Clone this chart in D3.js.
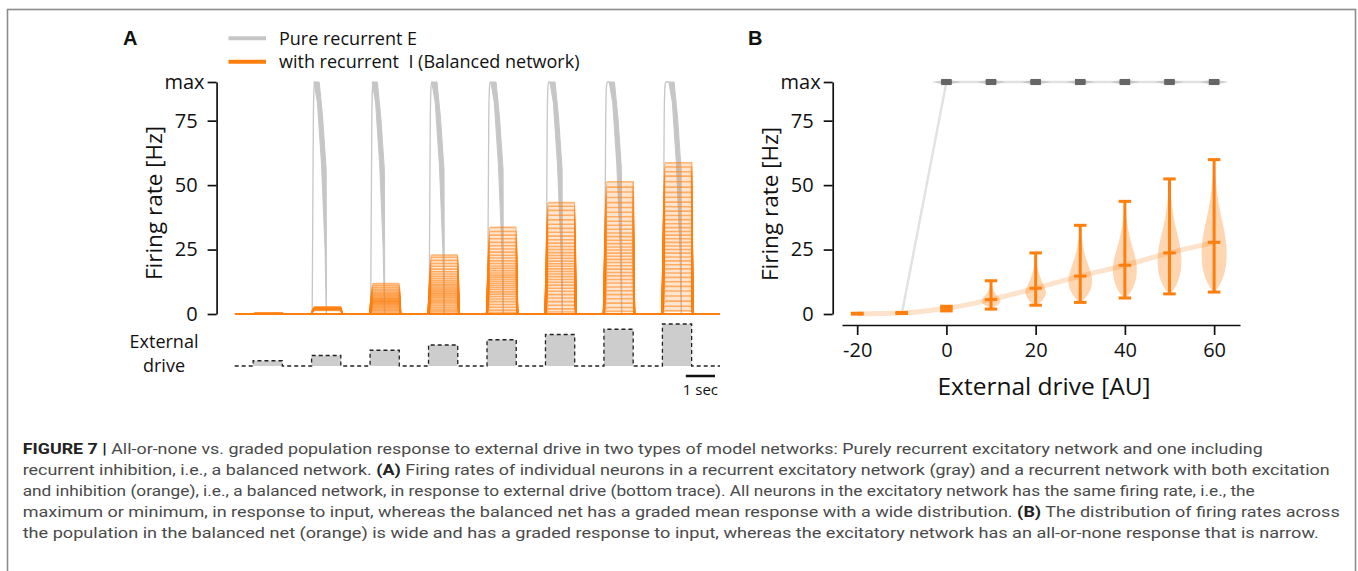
<!DOCTYPE html>
<html>
<head>
<meta charset="utf-8">
<script src="https://cdn.jsdelivr.net/npm/d3@7"></script>
<style>
    body { margin: 0; background: #fff; }
    text { font-family: "Open Sans", sans-serif; fill: #111; white-space: pre; }
</style>
</head>
<body>
<script>
(function() {
    "use strict";

    // ---- data ----
    var drives = [-20, -10, 0, 10, 20, 30, 40, 50, 60];
    var driveTicks = [-20, 0, 20, 40, 60];
    var rateTicks = [0, 25, 50, 75, 90];
    var rateTickLabels = ["0", "25", "50", "75", "max"];

    // panel A: one pulse per drive level above baseline (-20)
    var pulseDrives = [-10, 0, 10, 20, 30, 40, 50, 60];
    var pulseStarts = [0.63, 2.63, 4.63, 6.63, 8.63, 10.63, 12.63, 14.63];
    var pulseLength = 1;
    var traceEnd = 16.6;
    var scaleBarStart = 15.43;

    // pure E network: time (s after pulse start) where the rate collapses
    var grayFall = [null, 0.50, 0.49, 0.53, 0.55, 0.57, 0.60, 0.64];
    var grayRise = [[0.02, 0], [0.06, 75], [0.085, 88], [0.11, 90]];
    var grayBandLeft = [[-0.42, 90], [-0.3, 82], [-0.16, 58], [-0.04, 25], [0, 0]];
    var grayBandRight = [[-0.24, 90], [-0.12, 76], [0, 56], [0.012, 0]];

    // balanced network: plateau rate of individual neurons in each pulse
    var orangeRates = [
        [0.15, 0.25, 0.35, 0.45],
        [1.4, 1.6, 1.8, 1.9, 2.0, 2.1, 2.2, 2.3, 2.4, 2.6, 2.8],
        [0.6, 1.2, 1.7, 2.2, 2.6, 3.0, 3.4, 3.8, 4.1, 4.4, 4.7, 5.0, 5.3, 5.6, 5.9, 6.2,
         6.6, 7.0, 7.4, 7.9, 8.4, 9.0, 9.6, 10.3, 11.0, 11.8],
        [0.4, 1.1, 1.8, 2.5, 3.2, 3.9, 4.5, 5.1, 5.7, 6.3, 6.8, 7.3, 7.8, 8.3, 8.8, 9.3,
         9.8, 10.4, 11.0, 11.6, 12.3, 13.0, 13.8, 14.6, 15.5, 16.4, 17.4, 18.5, 19.6, 20.8, 22.0, 22.9],
        [0.6, 1.5, 2.6, 3.7, 4.8, 5.8, 6.8, 7.7, 8.6, 9.5, 10.3, 11.1, 11.9, 12.7, 13.5, 14.3,
         15.1, 15.9, 16.8, 17.7, 18.6, 19.6, 20.6, 21.7, 22.8, 24.0, 25.2, 26.5, 27.8, 29.2, 30.6, 32.0, 33.6],
        [0.8, 2.0, 3.4, 4.8, 6.2, 7.5, 8.8, 10.0, 11.2, 12.3, 13.4, 14.5, 15.5, 16.5, 17.5, 18.5,
         19.5, 20.5, 21.6, 22.7, 23.8, 25.0, 26.2, 27.5, 28.8, 30.2, 31.7, 33.2, 34.8, 36.5, 38.3, 40.2, 41.8, 43.2],
        [1.0, 2.5, 4.2, 5.9, 7.5, 9.0, 10.5, 12.0, 13.4, 14.8, 16.1, 17.4, 18.7, 20.0, 21.2, 22.4,
         23.6, 24.8, 26.0, 27.3, 28.6, 30.0, 31.4, 32.9, 34.4, 36.0, 37.7, 39.5, 41.3, 43.2, 45.2, 47.3, 49.2, 51.3],
        [1.2, 3.0, 5.0, 7.0, 8.9, 10.7, 12.5, 14.2, 15.9, 17.5, 19.1, 20.6, 22.1, 23.6, 25.0, 26.4,
         27.8, 29.2, 30.6, 32.0, 33.5, 35.0, 36.6, 38.2, 39.9, 41.6, 43.4, 45.3, 47.2, 49.2, 51.3, 53.5, 55.2, 57.0, 58.7]
    ];

    // panel B: population statistics per drive
    var orangeMin = [0, 0.2, 1.2, 1.9, 3.4, 4.5, 6.2, 7.8, 8.5];
    var orangeMean = [0.1, 0.4, 2.2, 5.6, 10.0, 14.7, 18.9, 23.7, 27.8];
    var orangeMax = [0.3, 0.6, 3.0, 12.9, 23.7, 34.4, 43.7, 52.4, 59.9];
    var grayMin = [0, 0, 89.4, 89.4, 89.4, 89.4, 89.4, 89.4, 89.4];
    var grayMean = [0, 0, 90, 90, 90, 90, 90, 90, 90];
    var grayMax = [0, 0, 90.6, 90.6, 90.6, 90.6, 90.6, 90.6, 90.6];
    // violin outlines: [rate, relative density]
    var orangeViolins = [
        null, null, null,
        [[1.9, 0.05], [3, 0.35], [4, 0.7], [5, 0.75], [6, 0.68], [7, 0.5], [8, 0.32], [9.5, 0.15], [11, 0.05], [12.9, 0.01]],
        [[3.4, 0.1], [5, 0.5], [7, 0.78], [8.5, 0.83], [10, 0.75], [12, 0.55], [14, 0.38], [16, 0.25], [18, 0.15], [20, 0.08], [23.7, 0.01]],
        [[4.5, 0.1], [7, 0.55], [10, 0.88], [12.5, 0.95], [15, 0.9], [18, 0.7], [21, 0.48], [24, 0.32], [27, 0.2], [30, 0.1], [34.4, 0.01]],
        [[6.2, 0.1], [9, 0.55], [12, 0.82], [15, 0.93], [18, 0.95], [21, 0.88], [25, 0.65], [29, 0.42], [33, 0.25], [37, 0.13], [43.7, 0.01]],
        [[7.8, 0.1], [11, 0.55], [15, 0.85], [19, 0.95], [23, 0.93], [27, 0.82], [31, 0.62], [35, 0.42], [40, 0.25], [45, 0.12], [52.4, 0.01]],
        [[8.5, 0.1], [12, 0.55], [16, 0.85], [20, 0.97], [24, 1.0], [28, 0.95], [33, 0.78], [38, 0.55], [43, 0.35], [48, 0.2], [54, 0.08], [59.9, 0.01]]
    ];
    var grayViolin = [[88.8, 0], [89.5, 0.35], [90, 1], [90.5, 0.35], [91.2, 0]];

    var captionLines = [
        [["FIGURE 7 | ", true], ["All-or-none vs. graded population response to external drive in two types of model networks: Purely recurrent excitatory network and one including", false]],
        [["recurrent inhibition, i.e., a balanced network. ", false], ["(A)", true], [" Firing rates of individual neurons in a recurrent excitatory network (gray) and a recurrent network with both excitation", false]],
        [["and inhibition (orange), i.e., a balanced network, in response to external drive (bottom trace). All neurons in the excitatory network has the same firing rate, i.e., the", false]],
        [["maximum or minimum, in response to input, whereas the balanced net has a graded mean response with a wide distribution. ", false], ["(B)", true], [" The distribution of firing rates across", false]],
        [["the population in the balanced net (orange) is wide and has a graded response to input, whereas the excitatory network has an all-or-none response that is narrow.", false]]
    ];
    var captionWidths = [1240, 1307, 1232, 1317, 1296];

    var ORANGE = "#ff7f0e", GRAY = "#c6c6c6";

    var svg = d3.select("body").append("svg")
        .attr("width", 1358).attr("height", 571);

    // frame
    svg.append("rect")
        .attr("x", 7.5).attr("y", 9.5).attr("width", 1348).attr("height", 600)
        .attr("fill", "none").attr("stroke", "#8c8c8c").attr("stroke-width", 1.6);

    // ---- scales ----
    var xA = d3.scaleLinear().domain([0, traceEnd]).range([234.7, 720]);
    var yRate = d3.scaleLinear().domain([0, 90]).range([314, 82]);
    var yDrive = d3.scaleLinear().domain([-20, 60]).range([366, 324]);
    var xB = d3.scaleLinear().domain([-23.4, 65.8]).range([842, 1240]);
    var wViolin = d3.scaleLinear().domain([0, 1]).range([0, 12.7]);
    var wGray = d3.scaleLinear().domain([0, 1]).range([0, 18]);

    var styleAxis = function(g) {
        g.selectAll("path, line").attr("stroke", "#111").attr("stroke-width", 1.7);
        g.selectAll("text").attr("font-family", "Open Sans").attr("font-size", 20).attr("fill", "#111");
    };
    var leftAxis = function(x) {
        var g = svg.append("g").attr("transform", "translate(" + x + ",0)")
            .call(d3.axisLeft(yRate).tickValues(rateTicks)
                .tickFormat(function(d, i) { return rateTickLabels[i]; })
                .tickSize(9).tickSizeOuter(0).tickPadding(10));
        styleAxis(g);
        g.selectAll(".tick text").filter(function(d) { return d === 90; }).attr("dx", 7);
        return g;
    };

    // ================= panel A =================
    svg.append("text").attr("x", 123).attr("y", 45)
        .attr("font-weight", "bold").attr("font-size", 20)
        .style("font-family", "Liberation Sans").text("A");

    // legend
    var legend = [["Pure recurrent E", GRAY, 38.3, 45], ["with recurrent  I (Balanced network)", ORANGE, 61.7, 68]];
    legend.forEach(function(l) {
        svg.append("line").attr("x1", 228.5).attr("x2", 266).attr("y1", l[2]).attr("y2", l[2])
            .attr("stroke", l[1]).attr("stroke-width", 4);
        svg.append("text").attr("x", 279).attr("y", l[3]).attr("font-size", 18).text(l[0]);
    });

    var gA = svg.append("g");
    var lineT = d3.line().x(function(d) { return xA(d[0]); }).y(function(d) { return yRate(d[1]); });

    // pure excitatory traces
    pulseDrives.forEach(function(d, i) {
        if (grayFall[i] === null) return;
        var s = pulseStarts[i], f = s + grayFall[i];
        var top = grayRise.map(function(p) { return [s + p[0], p[1]]; })
            .concat([[Math.max(f + grayBandLeft[0][0], s + 0.13), 90]]);
        gA.append("path").attr("d", lineT.curve(d3.curveMonotoneX)(top))
            .attr("fill", "none").attr("stroke", GRAY).attr("stroke-width", 1.3);
        var band = grayBandLeft.map(function(p) { return [f + p[0], p[1]]; })
            .concat(grayBandRight.slice().reverse().map(function(p) { return [f + p[0], p[1]]; }));
        gA.append("path").attr("d", lineT.curve(d3.curveLinearClosed)(band))
            .attr("fill", GRAY).attr("stroke", GRAY).attr("stroke-width", 1);
    });

    // balanced traces
    gA.append("line").attr("x1", xA(0)).attr("x2", xA(traceEnd))
        .attr("y1", yRate(0)).attr("y2", yRate(0))
        .attr("stroke", ORANGE).attr("stroke-width", 2);
    pulseDrives.forEach(function(d, i) {
        var s = pulseStarts[i], e = s + pulseLength, rates = orangeRates[i];
        gA.append("rect")
            .attr("x", xA(s + 0.05)).attr("width", xA(e) - xA(s + 0.05))
            .attr("y", yRate(d3.max(rates))).attr("height", yRate(d3.min(rates)) - yRate(d3.max(rates)))
            .attr("fill", ORANGE).attr("opacity", 0.2);
        gA.selectAll(null).data(rates).enter().append("path")
            .attr("d", function(r) {
                return lineT.curve(d3.curveMonotoneX)([[s - 0.01, 0], [s + 0.1, r], [e, r], [e + 0.04, 0]]);
            })
            .attr("fill", "none").attr("stroke", ORANGE).attr("stroke-width", 1.6).attr("opacity", 0.55);
    });

    leftAxis(216.6);

    svg.append("text")
        .attr("transform", "translate(162,203) rotate(-90)")
        .attr("text-anchor", "middle").attr("font-size", 22.5).text("Firing rate [Hz]");

    // external drive trace
    var steps = [[0, -20]];
    pulseDrives.forEach(function(d, i) {
        steps.push([pulseStarts[i], d]);
        steps.push([pulseStarts[i] + pulseLength, -20]);
    });
    steps.push([traceEnd, -20]);
    svg.append("g").selectAll("rect").data(pulseDrives).enter().append("rect")
        .attr("x", function(d, i) { return xA(pulseStarts[i]); })
        .attr("width", function(d, i) { return xA(pulseStarts[i] + pulseLength) - xA(pulseStarts[i]); })
        .attr("y", function(d) { return yDrive(d); })
        .attr("height", function(d) { return yDrive(-20) - yDrive(d); })
        .attr("fill", "#cdcdcd");
    svg.append("path")
        .attr("d", d3.line().x(function(d) { return xA(d[0]); }).y(function(d) { return yDrive(d[1]); })
            .curve(d3.curveStepAfter)(steps))
        .attr("fill", "none").attr("stroke", "#222").attr("stroke-width", 1.3)
        .attr("stroke-dasharray", "4,3");

    svg.append("text").attr("x", 164).attr("y", 347.5).attr("text-anchor", "middle")
        .attr("font-size", 18).text("External");
    svg.append("text").attr("x", 164).attr("y", 372).attr("text-anchor", "middle")
        .attr("font-size", 18).text("drive");

    // scale bar
    svg.append("line").attr("x1", xA(scaleBarStart)).attr("x2", xA(scaleBarStart + 1))
        .attr("y1", 376).attr("y2", 376).attr("stroke", "#111").attr("stroke-width", 2.5);
    svg.append("text").attr("x", xA(scaleBarStart + 0.5)).attr("y", 395)
        .attr("text-anchor", "middle").attr("font-size", 15).text("1 sec");

    // ================= panel B =================
    svg.append("text").attr("x", 748).attr("y", 45)
        .attr("font-weight", "bold").attr("font-size", 20)
        .style("font-family", "Liberation Sans").text("B");

    var gB = svg.append("g");
    var violinArea = function(cx, w) {
        return d3.area()
            .y(function(p) { return yRate(p[0]); })
            .x0(function(p) { return cx - w(p[1]); })
            .x1(function(p) { return cx + w(p[1]); })
            .curve(d3.curveBasis);
    };

    // gray (pure E) violins and mean line
    var lineB = d3.line().x(function(d) { return xB(d[0]); }).y(function(d) { return yRate(d[1]); });
    gB.append("path").attr("d", lineB(drives.map(function(d, i) { return [d, grayMean[i]]; })))
        .attr("fill", "none").attr("stroke", "#e2e2e2").attr("stroke-width", 2.5);
    drives.forEach(function(d, i) {
        if (grayMean[i] < 90) return;
        gB.append("path").attr("d", violinArea(xB(d), wGray)(grayViolin))
            .attr("fill", "#bdbdbd").attr("opacity", 0.7);
    });

    // orange mean line
    gB.append("path")
        .attr("d", lineB.curve(d3.curveMonotoneX)(drives.map(function(d, i) { return [d, orangeMean[i]]; })))
        .attr("fill", "none").attr("stroke", "#fde3cc").attr("stroke-width", 5);

    // orange violins
    drives.forEach(function(d, i) {
        if (!orangeViolins[i]) return;
        gB.append("path").attr("d", violinArea(xB(d), wViolin)(orangeViolins[i]))
            .attr("fill", ORANGE).attr("opacity", 0.32);
    });

    var errorBar = function(cx, lo, mid, hi, color, capW) {
        var g = gB.append("g").attr("stroke", color).attr("stroke-width", 3);
        g.append("line").attr("x1", cx).attr("x2", cx).attr("y1", yRate(lo)).attr("y2", yRate(hi));
        [lo, mid, hi].forEach(function(v) {
            g.append("line").attr("x1", cx - capW / 2).attr("x2", cx + capW / 2)
                .attr("y1", yRate(v)).attr("y2", yRate(v));
        });
    };
    drives.forEach(function(d, i) {
        if (grayMean[i] >= 90) errorBar(xB(d), grayMin[i], grayMean[i], grayMax[i], "#666", 10.5);
    });
    drives.forEach(function(d, i) {
        errorBar(xB(d), orangeMin[i], orangeMean[i], orangeMax[i], ORANGE, 12.5);
    });

    leftAxis(832.7);
    var gx = svg.append("g").attr("transform", "translate(0,325)")
        .call(d3.axisBottom(xB).tickValues(driveTicks)
            .tickFormat(function(d) { return String(d); })
            .tickSize(10).tickSizeOuter(0).tickPadding(8));
    styleAxis(gx);

    svg.append("text")
        .attr("transform", "translate(778,204) rotate(-90)")
        .attr("text-anchor", "middle").attr("font-size", 22.5).text("Firing rate [Hz]");
    svg.append("text").attr("x", 1044).attr("y", 395).attr("text-anchor", "middle")
        .attr("font-size", 24.5).text("External drive [AU]");

    // ================= caption =================
    captionLines.forEach(function(parts, i) {
        var t = svg.append("text").attr("x", 22.7).attr("y", 454 + i * 21)
            .attr("textLength", captionWidths[i]).attr("lengthAdjust", "spacingAndGlyphs")
            .style("font-family", "Roboto").attr("font-size", 15.5);
        parts.forEach(function(p) {
            t.append("tspan").text(p[0])
                .attr("font-weight", p[1] ? "bold" : "normal")
                .attr("fill", p[1] ? "#222" : "#4a4a4a");
        });
    });
}());
</script>
</body>
</html>
